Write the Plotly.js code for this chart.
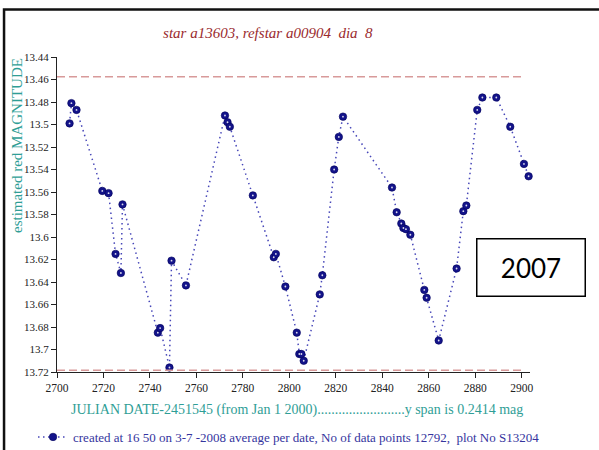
<!DOCTYPE html>
<html>
<head>
<meta charset="utf-8">
<script src="https://cdn.plot.ly/plotly-3.0.1.min.js"></script>
<style>
html,body{margin:0;padding:0;background:#fff;}
#chart{width:599px;height:450px;}
</style>
</head>
<body>
<div id="chart"></div>
<script>
// Julian date - 2451545
const julianDate = [2705.4, 2706.2, 2708.4, 2719.5, 2722.2, 2725.2, 2727.5, 2728.2, 2743.4, 2744.4,
  2748.4, 2749.3, 2755.5, 2772.3, 2773.4, 2774.4, 2784.3, 2793.3, 2794.2, 2798.3,
  2803.2, 2804.3, 2805.2, 2806.2, 2813.1, 2814.2, 2819.3, 2821.3, 2823.1, 2844.2,
  2846.2, 2848.2, 2849.1, 2850.2, 2852.1, 2858.1, 2859.1, 2864.3, 2872.0, 2874.9,
  2876.2, 2880.9, 2883.1, 2889.1, 2895.1, 2901.0, 2903.0];
// estimated red magnitude
const magnitude = [13.499, 13.481, 13.487, 13.559, 13.561, 13.615, 13.632, 13.571, 13.685, 13.681,
  13.716, 13.621, 13.643, 13.492, 13.498, 13.502, 13.563, 13.618, 13.615, 13.644,
  13.685, 13.704, 13.704, 13.710, 13.651, 13.634, 13.540, 13.511, 13.493, 13.556,
  13.578, 13.588, 13.592, 13.593, 13.598, 13.647, 13.654, 13.692, 13.628, 13.577,
  13.572, 13.487, 13.476, 13.476, 13.502, 13.535, 13.546];
// dashed limit lines
const limitLines = [13.4575, 13.7184];
const limitSpan = [2700, 2900];
const xTickVals = [2700, 2720, 2740, 2760, 2780, 2800, 2820, 2840, 2860, 2880, 2900];
const yTickVals = [13.44, 13.46, 13.48, 13.5, 13.52, 13.54, 13.56, 13.58, 13.6, 13.62, 13.64, 13.66, 13.68, 13.7, 13.72];

const titleText = 'star a13603, refstar a00904\u00a0 dia\u00a0 8';
const yTitleText = 'estimated red MAGNITUDE';
const xTitleText = 'JULIAN DATE-2451545 (from Jan 1 2000).........................y span is 0.2414 mag';
const legendText = 'created at 16 50 on 3-7 -2008 average per date, No of data points 12792,\u00a0 plot No S13204';
const boxLabel = '2007';

const serif = 'Liberation Serif, Times New Roman, serif';
const teal = '#2f9e96';

// plot box in pixels
const L = 57, T = 57, B = 78;
const xMax = 2903.6;
const W = (xMax - 2700) * 2.325;
const R = 599 - L - W;
const H = 450 - T - B;
const px = v => (v - L) / W;
const py = v => (450 - B - v) / H;

const traces = [
  {
    x: julianDate, y: magnitude, type: 'scatter', mode: 'lines+markers',
    name: legendText,
    line: {color: '#4646b8', width: 1.5, dash: '1.5px,3.5px'},
    marker: {symbol: 'circle', size: 7.5, color: '#13138a', line: {color: '#00005a', width: 0.6}},
    cliponaxis: false
  },
  {
    x: julianDate, y: magnitude, type: 'scatter', mode: 'markers',
    showlegend: false, hoverinfo: 'skip',
    marker: {symbol: 'circle', size: 1.8, color: 'rgba(255,255,255,0.85)'},
    cliponaxis: false
  }
];

const shapes = limitLines.map(v => ({
  type: 'line', xref: 'x', yref: 'y', x0: limitSpan[0], x1: limitSpan[1], y0: v, y1: v,
  line: {color: '#d89a9a', width: 1.5, dash: '8px,4px'}
}));
shapes.push({
  type: 'rect', xref: 'paper', yref: 'paper',
  x0: px(4), x1: px(610), y0: py(470), y1: py(9.5),
  line: {color: '#111', width: 2.5}, fillcolor: 'rgba(0,0,0,0)', layer: 'below'
});

const layout = {
  width: 599, height: 450,
  margin: {l: L, r: R, t: T, b: B, pad: 0, autoexpand: false},
  paper_bgcolor: '#fff', plot_bgcolor: '#fff',
  font: {family: serif, size: 12, color: '#222'},
  title: {
    text: titleText, xref: 'paper', x: px(268), xanchor: 'center',
    yref: 'container', y: 1 - 33/450, yanchor: 'middle',
    font: {family: serif, size: 15, color: '#9a2a2e', style: 'italic'}
  },
  xaxis: {
    range: [2700, xMax], tickvals: xTickVals, ticks: 'outside', ticklen: 5, tickwidth: 1,
    tickcolor: '#222', showline: true, linecolor: '#222', linewidth: 1, showgrid: false, zeroline: false,
    tickfont: {family: serif, size: 11.5, color: '#222'}
  },
  yaxis: {
    range: [13.72, 13.44], tickvals: yTickVals, ticks: 'outside', ticklen: 5, tickwidth: 1,
    tickcolor: '#222', showline: true, linecolor: '#222', linewidth: 1, showgrid: false, zeroline: false,
    tickfont: {family: serif, size: 11, color: '#222'}
  },
  shapes: shapes,
  annotations: [
    {text: yTitleText, xref: 'paper', yref: 'paper', x: px(17), y: py(146),
     xanchor: 'center', yanchor: 'middle', textangle: -90, showarrow: false,
     font: {family: serif, size: 15, color: teal}},
    {text: xTitleText, xref: 'paper', yref: 'paper', x: px(297), y: py(410),
     xanchor: 'center', yanchor: 'middle', showarrow: false,
     font: {family: serif, size: 14, color: teal}},
    {text: boxLabel, xref: 'paper', yref: 'paper', x: px(531.5), y: py(267),
     xanchor: 'center', yanchor: 'middle', showarrow: false,
     width: 107, height: 56, borderpad: 0, borderwidth: 1.5, bordercolor: '#000', bgcolor: '#fff',
     font: {family: 'Lato, Open Sans, sans-serif', size: 26, color: '#000'}}
  ],
  showlegend: true,
  legend: {
    orientation: 'h', x: px(33), xanchor: 'left', y: py(437), yanchor: 'middle',
    font: {family: serif, size: 13, color: '#35359e'}, bgcolor: 'rgba(0,0,0,0)', itemwidth: 30
  }
};

Plotly.newPlot('chart', traces, layout, {displayModeBar: false, staticPlot: true});
</script>
</body>
</html>
